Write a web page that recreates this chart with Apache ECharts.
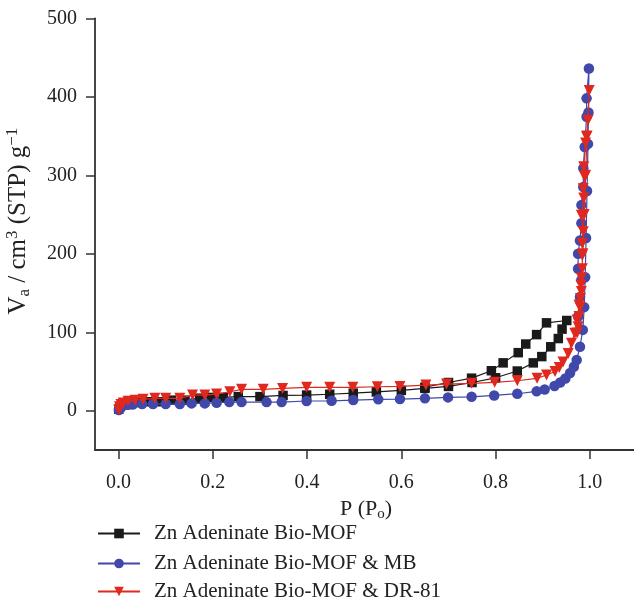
<!DOCTYPE html>
<html><head><meta charset="utf-8">
<script src="https://cdn.jsdelivr.net/npm/echarts@6/dist/echarts.min.js"></script>
<style>html,body{margin:0;padding:0;background:#fff}#c{width:634px;height:597px}</style>
</head><body><div id="c"></div>
<script>
// ---- data ----
const xTicks = [0, 0.2, 0.4, 0.6, 0.8, 1.0];
const yTicks = [0, 100, 200, 300, 400, 500];
const seriesNames = ['Zn Adeninate Bio-MOF', 'Zn Adeninate Bio-MOF & MB', 'Zn Adeninate Bio-MOF & DR-81'];

// Zn Adeninate Bio-MOF (adsorption then desorption)
const bmofP = [0.0005,0.003,0.008,0.015,0.025,0.04,0.063,0.088,0.112,0.141,0.172,0.197,0.222,0.254,0.30,0.349,0.399,0.448,0.498,0.547,0.60,0.65,0.70,0.75,0.80,0.846,0.88,0.898,0.917,0.933,0.941,0.951,
               0.908,0.887,0.864,0.848,0.816,0.791,0.749,0.70,0.65];
const bmofV = [2,5,7.5,9,10,10.5,11.5,11.5,13.5,13.5,16,17,17,18,18,19.5,20,21,22.5,24,26,28.5,31,36,42,50.6,61,69,81.5,92,104,115,
               112,97,85,74,61,51,41.5,36,30];

// Zn Adeninate Bio-MOF & MB
const mbP = [0.0005,0.002,0.005,0.01,0.02,0.03,0.05,0.073,0.10,0.13,0.155,0.183,0.208,0.235,0.261,0.314,0.346,0.399,0.452,0.498,0.551,0.597,0.65,0.699,0.749,0.797,0.846,0.887,0.904,0.925,0.937,0.948,0.958,0.966,0.972,0.979,0.985,0.988,0.990,0.992,0.994,0.996,0.997,0.998,
             0.993,0.993,0.989,0.986,0.986,0.982,0.982,0.979,0.975,0.975,0.982,0.979,0.975];
const mbV = [1,3,5,6.5,7.5,8,8.5,8.5,8.5,8.5,9.4,9.4,10.2,11,11,11,11,12.4,12.7,13.6,14.5,14.9,15.8,17,17.8,19.5,21.7,24.7,27,31.5,36,41,48,56,64.6,81.5,103,132,170,220,280,340,380,436,
             398,374.6,336,309,285,262,239,217,200,181,166.5,145,120];

// Zn Adeninate Bio-MOF & DR-81
const drP = [0.0005,0.002,0.005,0.01,0.02,0.035,0.052,0.077,0.10,0.13,0.157,0.183,0.208,0.236,0.261,0.307,0.348,0.399,0.448,0.497,0.549,0.597,0.652,0.696,0.749,0.798,0.846,0.888,0.908,0.926,0.935,0.943,0.954,0.961,0.968,0.973,0.977,0.981,0.985,0.988,0.991,0.994,0.9986,
             0.996,0.993,0.991,0.987,0.989,0.986,0.987,0.982,0.986,0.984,0.984,0.984,0.982,0.982,0.980,0.979,0.977,0.975,0.973];
const drV = [1,5,8,10,12,13.5,14.5,15.8,15.8,15.8,20,20,21.3,24.2,27.3,27.3,28.5,29.8,29.8,29.8,30.6,31,32.7,34,35,36.2,38.2,41.3,45.5,50,55,62,73,86,98.6,115.6,134.7,160,200,250,300,350,408,
             370,349,341,311,298,283,271,249,228,213,198,181,169,152,143,132,120,107,99];

const colors = ['#1a1a1a', '#4048aa', '#e0281e'];
const symbols = ['rect', 'circle', 'triangle'];
const symbolSizes = [9.5, 10.5, 11];
const rotates = [0, 0, 180];

function pairs(p, v) { return p.map((x, i) => [x, v[i]]); }
const dataSets = [pairs(bmofP, bmofV), pairs(mbP, mbV), pairs(drP, drV)];

const FONT = '"Liberation Serif", "DejaVu Serif", serif';
const legendTops = [523, 553, 581];
const chart = echarts.init(document.getElementById('c'), null, {renderer: 'canvas'});
chart.setOption({
  animation: false,
  backgroundColor: '#fff',
  grid: {left: 95, top: 18.3, right: -3, bottom: 147, containLabel: false, outerBoundsMode: 'none'},
  xAxis: {
    type: 'value', min: -0.05, max: 1.1,
    splitLine: {show: false},
    axisLine: {show: true, onZero: false, lineStyle: {color: '#333', width: 1.8}},
    axisTick: {show: true, inside: false, length: 9, customValues: xTicks, lineStyle: {color: '#333', width: 1.5}},
    axisLabel: {customValues: xTicks, margin: 23, color: '#222', fontFamily: FONT, fontSize: 20,
      formatter: v => v.toFixed(1)},
    name: 'P (P{sub|o})', nameLocation: 'middle', nameGap: 41,
    nameTextStyle: {color: '#222', fontFamily: FONT, fontSize: 22,
      rich: {sub: {fontFamily: FONT, fontSize: 15, verticalAlign: 'bottom', padding: [11, 0, 0, 0], color: '#222'}}}
  },
  yAxis: {
    type: 'value', min: -50, max: 500,
    splitLine: {show: false},
    axisLine: {show: true, onZero: false, lineStyle: {color: '#333', width: 1.8}},
    axisTick: {show: true, inside: false, length: 9, customValues: yTicks, lineStyle: {color: '#333', width: 1.5}},
    axisLabel: {customValues: yTicks, margin: 18, color: '#222', fontFamily: FONT, fontSize: 20},
    name: 'V{sub|a} / cm{sup|3} (STP) g{sup|−1}', nameLocation: 'middle', nameGap: 62,
    nameTextStyle: {color: '#222', fontFamily: FONT, fontSize: 25, padding: [0, 0, 0, 26],
      rich: {
        sub: {fontFamily: FONT, fontSize: 17, verticalAlign: 'bottom', padding: [12, 0, 0, 0], color: '#222'},
        sup: {fontFamily: FONT, fontSize: 17, verticalAlign: 'top', padding: [0, 0, 12, 0], color: '#222'}
      }}
  },
  legend: seriesNames.map((n, i) => ({
    show: true, orient: 'vertical', left: 97, top: legendTops[i], padding: 0,
    itemWidth: 42, itemHeight: 12,
    textStyle: {color: '#222', fontFamily: FONT, fontSize: 21, padding: [0, 0, 0, 9]},
    data: [n]
  })),
  series: dataSets.map((d, i) => ({
    name: seriesNames[i], type: 'line', data: d,
    symbol: symbols[i], symbolSize: symbolSizes[i], symbolRotate: rotates[i],
    showAllSymbol: true, clip: false,
    lineStyle: {color: colors[i], width: 1.2},
    itemStyle: {color: colors[i]},
    z: 2 + i
  }))
});
</script>
</body></html>
